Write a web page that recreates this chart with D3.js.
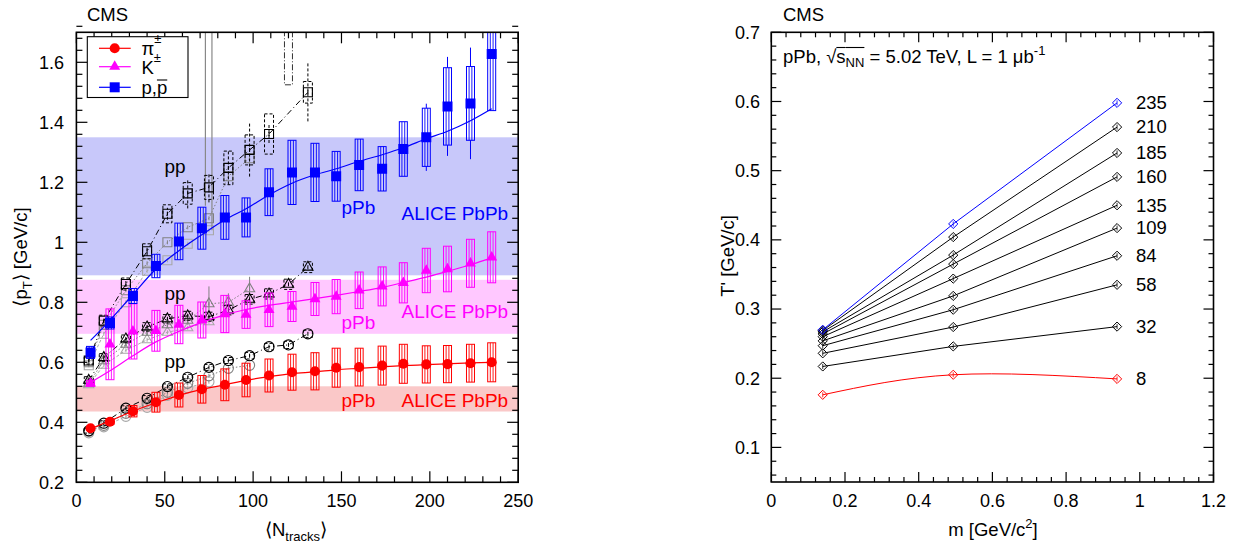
<!DOCTYPE html>
<html><head><meta charset="utf-8">
<script src="https://cdn.jsdelivr.net/npm/d3@7"></script>
<style>body{margin:0;background:#fff} text{font-family:"Liberation Sans",Arial,Helvetica,sans-serif;white-space:pre}</style>
</head><body><svg id="c" width="1246" height="550" xml:space="preserve"></svg>
<script>
// ---------------- DATA: left panel (pPb) ----------------
const pPbN = [8, 19, 32, 45, 58, 71, 84, 96, 109, 122, 135, 147, 160, 173, 185, 198, 210, 223, 235];
const piPPb = [0.38, 0.402, 0.437, 0.467, 0.491, 0.51, 0.525, 0.541, 0.556, 0.567, 0.57, 0.582, 0.584, 0.589, 0.595, 0.593, 0.594, 0.597, 0.600];
const piPPbSys = [0.006, 0.009, 0.019, 0.033, 0.04, 0.046, 0.053, 0.056, 0.055, 0.06, 0.062, 0.065, 0.063, 0.065, 0.065, 0.062, 0.062, 0.063, 0.065];
const piPPbStat = [0.003, 0.003, 0.003, 0.003, 0.004, 0.004, 0.004, 0.005, 0.005, 0.005, 0.006, 0.006, 0.007, 0.007, 0.008, 0.008, 0.009, 0.01, 0.012];
const kPPb = [0.53, 0.66, 0.703, 0.705, 0.726, 0.741, 0.761, 0.759, 0.775, 0.786, 0.811, 0.819, 0.84, 0.853, 0.865, 0.906, 0.911, 0.93, 0.95];
const kPPbSys = [0.01, 0.118, 0.092, 0.068, 0.064, 0.06, 0.062, 0.046, 0.056, 0.05, 0.055, 0.057, 0.061, 0.065, 0.067, 0.074, 0.076, 0.08, 0.085];
const kPPbStat = [0.004, 0.04, 0.04, 0.03, 0.02, 0.015, 0.015, 0.012, 0.012, 0.012, 0.012, 0.012, 0.015, 0.015, 0.015, 0.018, 0.02, 0.025, 0.03];
const pPPb = [0.633, 0.731, 0.821, 0.921, 1.003, 1.047, 1.083, 1.083, 1.167, 1.233, 1.233, 1.22, 1.258, 1.245, 1.311, 1.35, 1.453, 1.463, 1.628];
const pPPbSys = [0.02, 0.02, 0.025, 0.039, 0.061, 0.07, 0.073, 0.065, 0.078, 0.107, 0.097, 0.083, 0.086, 0.074, 0.091, 0.097, 0.129, 0.123, 0.189];
const pPPbStat = [0.004, 0.004, 0.005, 0.006, 0.008, 0.01, 0.012, 0.013, 0.015, 0.018, 0.02, 0.022, 0.025, 0.03, 0.05, 0.112, 0.165, 0.186, 0.15];
// fits to pPb
const piFit = [0.378, 0.405, 0.437, 0.465, 0.49, 0.51, 0.525, 0.54, 0.552, 0.562, 0.568, 0.575, 0.58, 0.585, 0.589, 0.592, 0.595, 0.598, 0.6];
const kFit = [0.533, 0.572, 0.622, 0.668, 0.703, 0.733, 0.758, 0.776, 0.79, 0.801, 0.812, 0.823, 0.836, 0.85, 0.866, 0.884, 0.903, 0.925, 0.948];
const pFit = [0.673, 0.74, 0.826, 0.911, 0.972, 1.025, 1.075, 1.112, 1.158, 1.197, 1.225, 1.245, 1.27, 1.292, 1.315, 1.345, 1.37, 1.405, 1.445];
// ALICE PbPb bands [low, high] for pi, K, p
const aliceLow = [0.436, 0.695, 0.89];
const aliceHigh = [0.52, 0.875, 1.35];
// pp data (7 TeV black, 2.76 TeV gray, 0.9 TeV light gray)
const ppN = [7, 15.5, 28, 40, 51.5, 63, 75, 86, 98, 109, 120, 131];
const ppPi7 = [0.372, 0.397, 0.447, 0.48, 0.519, 0.55, 0.583, 0.606, 0.622, 0.652, 0.658, 0.695];
const ppK7 = [0.54, 0.616, 0.678, 0.718, 0.745, 0.755, 0.752, 0.774, 0.81, 0.828, 0.86, 0.917];
const ppP7 = [0.606, 0.739, 0.861, 0.97, 1.095, 1.163, 1.183, 1.248, 1.308, 1.361, null, 1.5];
const ppPi7Sys = [0.008, 0.008, 0.008, 0.009, 0.009, 0.01, 0.01, 0.01, 0.011, 0.011, 0.012, 0.012];
const ppK7Sys = [0.012, 0.013, 0.013, 0.014, 0.014, 0.015, 0.015, 0.016, 0.016, 0.017, 0.017, 0.018];
const ppP7Sys = [0.012, 0.018, 0.02, 0.025, 0.03, 0.036, 0.04, 0.056, 0.05, 0.067, null, 0.036];
const ppP7Stat = [0.004, 0.008, 0.01, 0.015, 0.02, 0.05, 0.05, 0.055, 0.089, 0.03, null, 0.097];
const ppPi276 = [0.37, 0.39, 0.43, 0.462, 0.5, 0.53, 0.555, 0.58, 0.59];
const ppK276 = [0.53, 0.605, 0.66, 0.7, 0.725, 0.74, 0.795, 0.8, 0.845];
const ppK276Stat = [0.004, 0.006, 0.008, 0.01, 0.012, 0.015, 0.058, 0.03, 0.04];
const ppP276 = [0.60, 0.725, 0.84, 0.93, 1.0, 1.05, 1.08, 1.22, 1.28];
const ppPi09 = [0.365, 0.385, 0.42, 0.45, 0.49, 0.515, 0.535];
const ppK09 = [0.525, 0.59, 0.64, 0.675, 0.7, 0.715, 0.735];
const ppP09 = [0.59, 0.695, 0.80, 0.905, 0.94, 0.995, 1.04];
// pp points whose uncertainties run off the top of the frame: N, lower edge
const ppOffN = [73, 76.7, 120];
const ppOffLow = [1.122, 1.04, 1.525];

// ---------------- DATA: right panel ----------------
const masses = [0.1396, 0.4937, 0.9383];
const rightN = ["8", "32", "58", "84", "109", "135", "160", "185", "210", "235"];
const Tpi = [0.176, 0.217, 0.236, 0.247, 0.254, 0.26, 0.264, 0.267, 0.269, 0.27];
const TK  = [0.205, 0.246, 0.274, 0.299, 0.319, 0.344, 0.365, 0.378, 0.404, 0.423];
const Tp  = [0.199, 0.2746, 0.335, 0.377, 0.417, 0.45, 0.491, 0.5256, 0.563, 0.598];

// tick labels
const leftXTicks = [0, 50, 100, 150, 200, 250];
const leftYTicks = [0.2, 0.4, 0.6, 0.8, 1.0, 1.2, 1.4, 1.6];
const leftYLabels = ["0.2", "0.4", "0.6", "0.8", "1", "1.2", "1.4", "1.6"];
const rightXTicks = [0, 0.2, 0.4, 0.6, 0.8, 1.0, 1.2];
const rightXLabels = ["0", "0.2", "0.4", "0.6", "0.8", "1", "1.2"];
const rightYTicks = [0.1, 0.2, 0.3, 0.4, 0.5, 0.6, 0.7];
const rightYLabels = ["0.1", "0.2", "0.3", "0.4", "0.5", "0.6", "0.7"];

// ---------------- DRAWING ----------------
const svg = d3.select('#c');
svg.append('rect').attr('width', 1246).attr('height', 550).attr('fill', '#fff');
const defs = svg.append('defs');

const xL = d3.scaleLinear().domain([0, 250]).range([76.4, 518.2]);
const yL = d3.scaleLinear().domain([0.2, 1.7]).range([482.3, 32.3]);
const xR = d3.scaleLinear().domain([0, 1.2]).range([771.3, 1213.5]);
const yR = d3.scaleLinear().domain([0.05, 0.7]).range([482, 32.3]);

function clip(id, xs, ys) {
  const [x0, x1] = xs.range(), [y0, y1] = ys.range();
  defs.append('clipPath').attr('id', id).append('rect')
    .attr('x', x0).attr('y', y1).attr('width', x1 - x0).attr('height', y0 - y1);
}
clip('clipL', xL, yL); clip('clipR', xR, yR);

const FONT_T = 18, FONT = 18.5, FONT_A = 19;
const RED = '#ff0000', MAG = '#ff00ff', BLUE = '#0000ff';

function sym(shape, size) {
  const t = shape === 'c' ? d3.symbolCircle : shape === 't' ? d3.symbolTriangle : d3.symbolSquare;
  return d3.symbol().type(t).size(size)();
}

function rich(g, x, y, segs, fill, anchor) {
  const grp = g.append('g');
  let cx = 0; const overs = [];
  segs.forEach(s => {
    const t = grp.append('text').attr('x', cx).attr('y', s.dy || 0)
      .attr('font-size', s.size || FONT).attr('fill', fill || '#000').text(s.t);
    const w = t.node().getComputedTextLength();
    if (s.over) overs.push([cx + (s.overStart || 0), cx + w, s.overY]);
    cx += w + (s.gap || 0);
  });
  overs.forEach(o => grp.append('line').attr('x1', o[0]).attr('x2', o[1]).attr('y1', o[2]).attr('y2', o[2])
    .attr('stroke', fill || '#000').attr('stroke-width', 1.1));
  const dx = anchor === 'middle' ? -cx / 2 : 0;
  grp.attr('transform', `translate(${x + dx},${y})`);
  return grp;
}

function frame(xs, ys, xMaj, xMin, yMaj, yMin, maj, mn) {
  const g = svg.append('g');
  const [x0, x1] = xs.range(), [y0, y1] = ys.range();
  const xd = xs.domain(), yd = ys.domain();
  const nx = Math.round((xd[1] - xd[0]) / xMin);
  for (let i = 0; i <= nx; i++) {
    const v = xd[0] + i * xMin;
    const isMaj = Math.abs(v / xMaj - Math.round(v / xMaj)) < 1e-6;
    const len = isMaj ? maj : mn, px = xs(v);
    g.append('line').attr('x1', px).attr('x2', px).attr('y1', y0).attr('y2', y0 - len).attr('stroke', '#000').attr('stroke-width', 1.2);
    g.append('line').attr('x1', px).attr('x2', px).attr('y1', y1).attr('y2', y1 + len).attr('stroke', '#000').attr('stroke-width', 1.2);
  }
  const start = Math.ceil((yd[0] - 1e-9) / yMin) * yMin;
  const ny = Math.round((yd[1] - start) / yMin);
  for (let i = 0; i <= ny; i++) {
    const v = start + i * yMin;
    const isMaj = Math.abs(v / yMaj - Math.round(v / yMaj)) < 1e-6;
    const len = isMaj ? maj : mn, py = ys(v);
    g.append('line').attr('x1', x0).attr('x2', x0 + len).attr('y1', py).attr('y2', py).attr('stroke', '#000').attr('stroke-width', 1.2);
    g.append('line').attr('x1', x1).attr('x2', x1 - len).attr('y1', py).attr('y2', py).attr('stroke', '#000').attr('stroke-width', 1.2);
  }
  g.append('rect').attr('x', x0).attr('y', y1).attr('width', x1 - x0).attr('height', y0 - y1)
    .attr('fill', 'none').attr('stroke', '#000').attr('stroke-width', 1.6);
  return g;
}

// ============ LEFT PANEL ============
const gL = svg.append('g').attr('clip-path', 'url(#clipL)');
const bandCols = ['#fac8c8', '#ffc8ff', '#c8c8fa'];
aliceLow.forEach((lo, i) => {
  gL.append('rect').attr('x', xL(0)).attr('width', xL(250) - xL(0))
    .attr('y', yL(aliceHigh[i])).attr('height', yL(lo) - yL(aliceHigh[i])).attr('fill', bandCols[i]);
});

// pp series
function ppSeries(N, vals, sys, stat, color, shape, dash, boxDash) {
  const pts = N.map((n, i) => ({ n, v: vals[i], s: sys ? sys[i] : null, e: stat ? stat[i] : null })).filter(d => d.v != null);
  gL.append('path').datum(pts).attr('fill', 'none').attr('stroke', color).attr('stroke-width', 1)
    .attr('stroke-dasharray', dash)
    .attr('d', d3.line().x(d => xL(d.n)).y(d => yL(d.v)));
  pts.forEach(d => {
    const px = xL(d.n), py = yL(d.v);
    if (d.e) gL.append('line').attr('x1', px).attr('x2', px).attr('y1', yL(d.v - d.e)).attr('y2', yL(d.v + d.e))
      .attr('stroke', color).attr('stroke-width', 1).attr('stroke-dasharray', boxDash);
    if (d.s) gL.append('rect').attr('x', px - 4.5).attr('width', 9).attr('y', yL(d.v + d.s)).attr('height', yL(d.v - d.s) - yL(d.v + d.s))
      .attr('fill', 'none').attr('stroke', color).attr('stroke-width', 1).attr('stroke-dasharray', boxDash);
    const size = shape === 'c' ? 80 : shape === 't' ? 45 : 81;
    gL.append('path').attr('d', sym(shape, size)).attr('transform', `translate(${px},${py})`)
      .attr('fill', 'none').attr('stroke', color).attr('stroke-width', 1.1);
    gL.append('line').attr('x1', px).attr('x2', px).attr('y1', py - 2).attr('y2', py + 2).attr('stroke', color).attr('stroke-width', 1);
  });
}
const nLight = ppN.slice(0, ppPi09.length), nGray = ppN.slice(0, ppPi276.length);
ppSeries(nLight, ppPi09, null, null, '#a8a8a8', 'c', '3,2', null);
ppSeries(nLight, ppK09, null, null, '#a8a8a8', 't', '3,2', null);
ppSeries(nLight, ppP09, null, null, '#a8a8a8', 's', '3,2', null);
ppSeries(nGray, ppPi276, null, null, '#808080', 'c', '1.5,2', null);
ppSeries(nGray, ppK276, null, ppK276Stat, '#808080', 't', '1.5,2', null);
ppSeries(nGray, ppP276, null, null, '#808080', 's', '1.5,2', null);
// uncertainties running off the top
ppOffN.forEach((n, i) => {
  const px = xL(n);
  if (i < 2) gL.append('line').attr('x1', px).attr('x2', px).attr('y1', yL(1.7)).attr('y2', yL(ppOffLow[i])).attr('stroke', '#888').attr('stroke-width', 1.2);
  else gL.append('rect').attr('x', px - 4).attr('width', 8).attr('y', yL(1.75)).attr('height', yL(ppOffLow[i]) - yL(1.75))
    .attr('fill', 'none').attr('stroke', '#333').attr('stroke-width', 1).attr('stroke-dasharray', '6,2,1,2');
});
ppSeries(ppN, ppPi7, ppPi7Sys, null, '#000', 'c', '6,3,1,3', '3,2');
ppSeries(ppN, ppK7, ppK7Sys, null, '#000', 't', '6,3,1,3', '3,2');
ppSeries(ppN, ppP7, ppP7Sys, ppP7Stat, '#000', 's', '6,3,1,3', '3,2');

// pPb series
function pPbSeries(vals, sys, stat, fit, color, shape, size) {
  pPbN.forEach((n, i) => {
    const px = xL(n), v = vals[i], s = sys[i], e = stat[i];
    const yt = yL(v + s), yb = yL(v - s);
    gL.append('rect').attr('x', px - 4).attr('width', 8).attr('y', yt).attr('height', yb - yt)
      .attr('fill', 'none').attr('stroke', color).attr('stroke-width', 1);
    [-1.4, 1.4].forEach(o => gL.append('line').attr('x1', px + o).attr('x2', px + o).attr('y1', yt).attr('y2', yb)
      .attr('stroke', color).attr('stroke-width', 0.9));
    if (e > s) {
      gL.append('line').attr('x1', px).attr('x2', px).attr('y1', yL(v + e)).attr('y2', yt).attr('stroke', color).attr('stroke-width', 1);
      gL.append('line').attr('x1', px).attr('x2', px).attr('y1', yb).attr('y2', yL(v - e)).attr('stroke', color).attr('stroke-width', 1);
    }
  });
  gL.append('path').datum(pPbN.map((n, i) => [n, fit[i]])).attr('fill', 'none').attr('stroke', color).attr('stroke-width', 1.2)
    .attr('d', d3.line().x(d => xL(d[0])).y(d => yL(d[1])).curve(d3.curveMonotoneX));
  pPbN.forEach((n, i) => {
    gL.append('path').attr('d', sym(shape, size)).attr('transform', `translate(${xL(n)},${yL(vals[i])})`).attr('fill', color);
  });
}
pPbSeries(piPPb, piPPbSys, piPPbStat, piFit, RED, 'c', 80);
pPbSeries(kPPb, kPPbSys, kPPbStat, kFit, MAG, 't', 52);
pPbSeries(pPPb, pPPbSys, pPPbStat, pFit, BLUE, 's', 100);

// annotations
const annL = svg.append('g');
function ann(x, y, t, c) { annL.append('text').attr('x', x).attr('y', y).attr('font-size', FONT_A).attr('fill', c).text(t); }
ann(164.5, 173, 'pp', '#000'); ann(164.5, 300, 'pp', '#000'); ann(164.5, 368, 'pp', '#000');
ann(341.5, 214, 'pPb', BLUE); ann(341.5, 329, 'pPb', MAG); ann(341.5, 407, 'pPb', RED);
ann(401.5, 219.5, 'ALICE PbPb', BLUE); ann(401.5, 318, 'ALICE PbPb', MAG); ann(401.5, 406.5, 'ALICE PbPb', RED);

frame(xL, yL, 50, 10, 0.2, 0.04, 11, 6);
leftXTicks.forEach(v => svg.append('text').attr('x', xL(v)).attr('y', 507).attr('text-anchor', 'middle').attr('font-size', FONT_T).text(v));
leftYTicks.forEach((v, i) => svg.append('text').attr('x', 64).attr('y', yL(v) + 6.3).attr('text-anchor', 'end').attr('font-size', FONT_T).text(leftYLabels[i]));

// legend
const leg = svg.append('g');
leg.append('rect').attr('x', 87.3).attr('y', 36.7).attr('width', 100.7).attr('height', 60.8).attr('fill', '#fff').attr('stroke', '#000').attr('stroke-width', 1.1);
const legRows = [[48.3, RED, 'c', 80], [66.7, MAG, 't', 52], [87.3, BLUE, 's', 100]];
legRows.forEach(r => {
  leg.append('line').attr('x1', 99).attr('x2', 130.7).attr('y1', r[0]).attr('y2', r[0]).attr('stroke', r[1]).attr('stroke-width', 1.2);
  leg.append('path').attr('d', sym(r[2], r[3])).attr('transform', `translate(114.7,${r[0]})`).attr('fill', r[1]);
});
rich(leg, 141.5, 54.5, [{ t: 'π' }, { t: '±', size: 13, dy: -12 }]);
rich(leg, 141.5, 73.5, [{ t: 'K' }, { t: '±', size: 13, dy: -12 }]);
rich(leg, 141.5, 93.5, [{ t: 'p,' }, { t: 'p', over: true, overY: -13.5 }]);

// titles
svg.append('text').attr('x', 87).attr('y', 21).attr('font-size', FONT).text('CMS');
rich(svg, 296, 536, [{ t: '⟨N' }, { t: 'tracks', size: 13, dy: 5 }, { t: '⟩' }], '#000', 'middle');
rich(svg, 0, 0, [{ t: '⟨p' }, { t: 'T', size: 13, dy: 5 }, { t: '⟩ [GeV/c]' }], '#000', 'middle').attr('transform', function () {
  const w = this.getBBox().width; return `translate(27,${257 + w / 2}) rotate(-90)`;
});

// ============ RIGHT PANEL ============
const gR = svg.append('g').attr('clip-path', 'url(#clipR)');
const rows = rightN.map((lab, i) => ({ lab, pts: masses.map((m, j) => [m, [Tpi, TK, Tp][j][i]]) }));
const order = rows.map((r, i) => i).filter(i => i !== 0 && i !== rows.length - 1).concat([0, rows.length - 1]);
const diamond = 'M0,-4.6L4.6,0L0,4.6L-4.6,0Z';
order.forEach(i => {
  const col = i === 0 ? RED : i === rows.length - 1 ? BLUE : '#000';
  gR.append('path').datum(rows[i].pts).attr('fill', 'none').attr('stroke', col).attr('stroke-width', 1)
    .attr('d', d3.line().x(d => xR(d[0])).y(d => yR(d[1])).curve(i === 0 ? d3.curveNatural : d3.curveLinear));
  rows[i].pts.forEach(p => {
    const px = xR(p[0]), py = yR(p[1]);
    gR.append('path').attr('d', diamond).attr('transform', `translate(${px},${py})`).attr('fill', 'none').attr('stroke', col).attr('stroke-width', 1);
    gR.append('line').attr('x1', px).attr('x2', px).attr('y1', py - 2.5).attr('y2', py + 2.5).attr('stroke', col).attr('stroke-width', 0.8);
  });
});
rows.forEach((r, i) => svg.append('text').attr('x', 1136).attr('y', yR(Tp[i]) + 6.3).attr('font-size', FONT).text(r.lab));

frame(xR, yR, 0.2, 0.04, 0.1, 0.02, 10, 5);
rightXTicks.forEach((v, i) => svg.append('text').attr('x', xR(v)).attr('y', 507).attr('text-anchor', 'middle').attr('font-size', FONT_T).text(rightXLabels[i]));
rightYTicks.forEach((v, i) => svg.append('text').attr('x', 760).attr('y', yR(v) + 6.3).attr('text-anchor', 'end').attr('font-size', FONT_T).text(rightYLabels[i]));

svg.append('text').attr('x', 783).attr('y', 21).attr('font-size', FONT).text('CMS');
rich(svg, 783, 63, [
  { t: 'pPb, ' }, { t: '√' }, { t: 's', over: true, overY: -15.5 }, { t: 'NN', size: 13, dy: 4, over: true, overY: -15.5 },
  { t: ' = 5.02 TeV, L = 1 μb' }, { t: '-1', size: 13, dy: -8 }
]);
rich(svg, 993, 536, [{ t: 'm [GeV/c' }, { t: '2', size: 13, dy: -8 }, { t: ']' }], '#000', 'middle');
rich(svg, 0, 0, [{ t: "T' [GeV/c]" }], '#000', 'middle').attr('transform', function () {
  const w = this.getBBox().width; return `translate(734,${256 + w / 2}) rotate(-90)`;
});
</script></body></html>
